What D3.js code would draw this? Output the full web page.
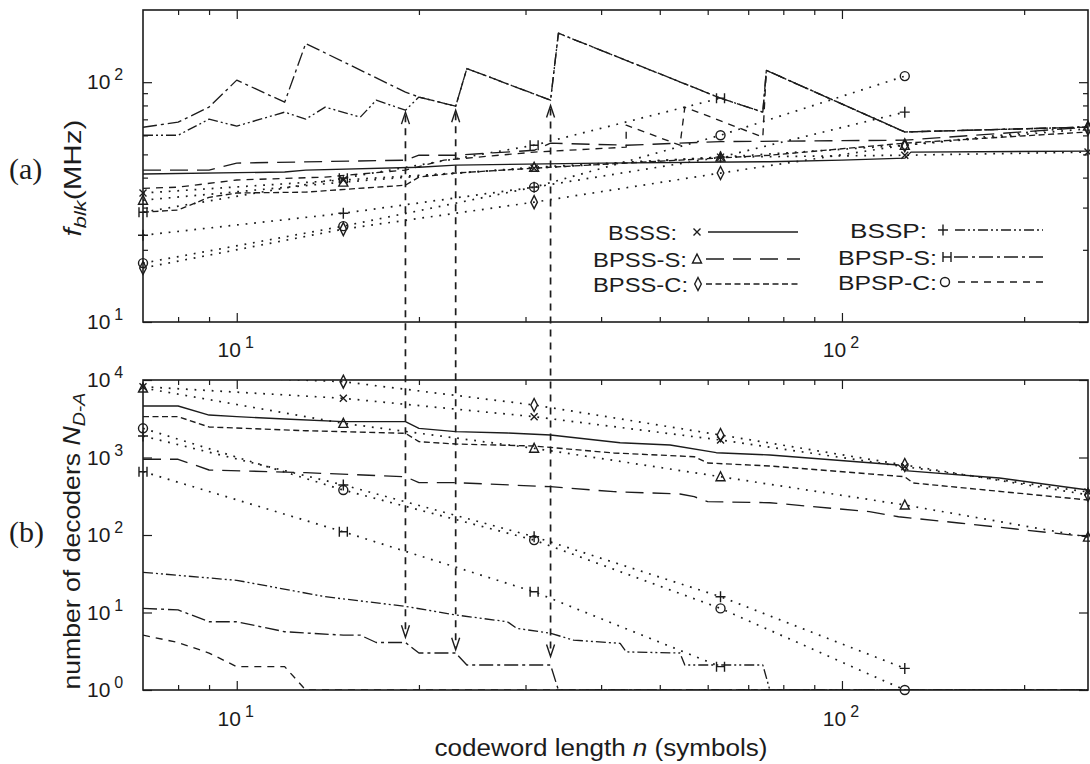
<!DOCTYPE html>
<html><head><meta charset="utf-8">
<script src="https://cdn.jsdelivr.net/npm/d3@7"></script>
<style>body{margin:0;background:#fff}svg{display:block}</style>
</head><body>
<svg id="c" width="1090" height="764"></svg>
<script>
// ---------------- DATA ----------------
const schemes = ["BSSS", "BPSS-S", "BPSS-C", "BSSP", "BPSP-S", "BPSP-C"];
const naturalN = [7, 15, 31, 63, 127, 255];

// (a) block frequency f_blk (MHz) — continuous curves [n, MHz]
const fBSSS   = [[7,41.4],[12,42.2],[13,43],[20,44.2],[23,45.1],[40,46],[76,46.6],[100,47.3],[127,48.2],[130,51.1],[255,51.6]];
const fBPSS_S = [[7,43],[9,43],[10,46],[19,47.3],[20,49.6],[23,49.6],[31,52],[33,55.7],[44,54.6],[63,56.5],[127,57.3],[255,64.9]];
const fBPSS_C = [[7,28.7],[8,29.3],[9,33.1],[10,34.5],[13,34.8],[19,37.2],[20,40.2],[23,41.8],[31,43.8],[44,46],[54,47.3],[76,49.6],[127,55.7],[255,62]];
const fBSSP   = [[7,60.1],[8,60.1],[9,70.1],[10,65.6],[12,75],[13,70.1],[14,78.7],[16,71.5],[17,84.1],[19,76.4],[20,86.7],[23,79.4],[24,114],[33,84.1],[34,160],[63,85.8],[74,75],[75,112],[127,62],[255,65]];
const fBPSP_S = [[7,64.9],[8,68.1],[9,78.7],[10,102],[12,82.5],[13,145],[19,90.9],[20,86.7],[23,79.4],[24,114],[33,84.1],[34,160],[63,85.8],[74,75],[75,112],[127,62],[255,65]];
const fBPSP_C = [[7,36.1],[8,36.5],[10,39.1],[14,40.2],[19,43],[22,47.3],[31,51.1],[44,53.6],[44,66.2],[54,54.6],[55,78.7],[74,59],[75,112],[127,62],[255,65]];

// (a) marker values at natural code lengths (dotted)
const fmBSSS   = [34.5, 39.1, 43.8, 48.7, 49.6, 51.1];
const fmBPSS_S = [32.2, 38.3, 44.2, 48.7, 54.6, 65.6];
const fmBPSS_C = [16.8, 24.4, 31.6, 41.8, 54.6, 64];
const fmBSSP   = [23, 28.4, 36.5, 48.7, 75];
const fmBPSP_S = [28.7, 39.8, 54.6, 85.8];
const fmBPSP_C = [17.6, 25.1, 36.5, 60.1, 106];

// (b) number of decoders N_D-A — continuous curves [n, count]
const nBSSS   = [[7,4620],[8,4620],[9,3530],[10,3363],[12,3140],[15,2897],[19,2897],[20,2380],[23,2153],[28,2070],[33,1950],[43,1552],[52,1449],[62,1153],[76,1077],[124,800],[127,676],[182,544],[255,381]];
const nBPSS_S = [[7,948],[8,948],[9,690],[13,637],[19,565],[20,473],[23,473],[33,420],[42,362],[54,338],[57,312],[60,269],[76,261],[111,200],[124,172],[156,143],[255,95]];
const nBPSS_C = [[7,3363],[8,3363],[9,2476],[13,2217],[19,2052],[20,1600],[23,1493],[31,1407],[42,1143],[57,1024],[60,849],[76,777],[127,565],[131,469],[255,283]];
const nBSSP   = [[7,33],[10,26],[14,16],[19,12],[23,9.3],[28,7.6],[29,6.25],[33,5.4],[36,4.4],[43,4],[44,3.1],[54,3],[55,2.1],[74,2.1],[76,1],[255,1]];
const nBPSP_S = [[7,11.3],[8,10.8],[9,7.6],[10,7.6],[12,5.65],[15,5.1],[16,5.1],[17,4.1],[19,4.1],[20,3],[23,3],[24,2.1],[33,2.1],[34,1],[255,1]];
const nBPSP_C = [[7,5.1],[8,4.1],[9,3],[10,2],[12,2],[13,1],[255,1]];

// (b) marker values at natural code lengths (dotted)
const nmBSSS   = [8200, 5800, 3363, 1682, 760, 359];
const nmBPSS_S = [7890, 2760, 1315, 565, 244, 94];
const nmBPSS_C = [12000, 9510, 4760, 1950, 800, 330];
const nmBSSP   = [1890, 442, 95, 16, 1.9];
const nmBPSP_S = [656, 110, 18.5, 2];
const nmBPSP_C = [2380, 380, 86, 11.3, 1];

// vertical arrows linking (a) and (b)
const arrowN      = [19, 23, 33];
const arrowTopF   = [75, 76.4, 80];
const arrowBotN   = [4.8, 3.3, 2.7];

// ticks
const xMajor = [10, 100];
const xMinor = [8, 9, 20, 30, 40, 50, 60, 70, 80, 90, 200];
const xTickExp = ["1", "2"];
const yTopMajor = [10, 100];
const yTopMinor = [20, 30, 40, 50, 60, 70, 80, 90];
const yTopExp = ["1", "2"];
const yBotMajor = [1, 10, 100, 1000, 10000];
const yBotExp = ["0", "1", "2", "3", "4"];

// ---------------- DRAW ----------------
const svg = d3.select("#c");
const INK = "#1c1c1c";
const FONT = "'Liberation Sans', Arial, Helvetica, sans-serif";

const L = 143, R = 1088;
const x = d3.scaleLog().domain([7, 255]).range([L, R]);
const yT = d3.scaleLog().domain([10, 200]).range([322, 10]);
const yB = d3.scaleLog().domain([1, 10000]).range([690, 380]);

const dashes = {
  "BSSS": null, "BPSS-S": "18,9", "BPSS-C": "6,3.5",
  "BSSP": "10,3,2,3,2,3", "BPSP-S": "14,4,3,4", "BPSP-C": "7,6"
};
const shapes = {"BSSS":"x","BPSS-S":"tri","BPSS-C":"dia","BSSP":"plus","BPSP-S":"H","BPSP-C":"o"};

const topCurves = [fBSSS, fBPSS_S, fBPSS_C, fBSSP, fBPSP_S, fBPSP_C];
const topMarks  = [fmBSSS, fmBPSS_S, fmBPSS_C, fmBSSP, fmBPSP_S, fmBPSP_C];
const botCurves = [nBSSS, nBPSS_S, nBPSS_C, nBSSP, nBPSP_S, nBPSP_C];
const botMarks  = [nmBSSS, nmBPSS_S, nmBPSS_C, nmBSSP, nmBPSP_S, nmBPSP_C];

const defs = svg.append("defs");
function clip(id, y0, y1) {
  defs.append("clipPath").attr("id", id).append("rect")
    .attr("x", L).attr("y", y0).attr("width", R - L).attr("height", y1 - y0);
}
clip("clipT", yT.range()[1], yT.range()[0]);
clip("clipB", yB.range()[1], yB.range()[0]);

function marker(g, type, cx, cy) {
  const s = g.append("path").attr("fill", "none").attr("stroke", INK).attr("stroke-width", 1.4);
  let d;
  switch (type) {
    case "x": d = `M${cx-3.5},${cy-3.5}L${cx+3.5},${cy+3.5}M${cx+3.5},${cy-3.5}L${cx-3.5},${cy+3.5}`; break;
    case "tri": d = `M${cx},${cy-5}L${cx+4.5},${cy+4}L${cx-4.5},${cy+4}Z`; break;
    case "dia": d = `M${cx},${cy-6.5}L${cx+3.3},${cy}L${cx},${cy+6.5}L${cx-3.3},${cy}Z`; break;
    case "plus": d = `M${cx-5},${cy}L${cx+5},${cy}M${cx},${cy-5.5}L${cx},${cy+5.5}`; break;
    case "H": d = `M${cx-4},${cy-5}V${cy+5}M${cx+4},${cy-5}V${cy+5}M${cx-4},${cy}H${cx+4}`; break;
    case "o": s.remove(); g.append("circle").attr("cx", cx).attr("cy", cy).attr("r", 4.5)
      .attr("fill", "none").attr("stroke", INK).attr("stroke-width", 1.4); return;
  }
  s.attr("d", d);
}

function panel(y, curves, marks, clipId) {
  const g = svg.append("g");
  const lines = g.append("g").attr("clip-path", `url(#${clipId})`);
  const line = d3.line().x(d => x(d[0])).y(d => y(d[1]));
  marks.forEach((vals) => {
    const pts = vals.map((v, k) => [naturalN[k], v]);
    lines.append("path").attr("d", line(pts)).attr("fill", "none")
      .attr("stroke", INK).attr("stroke-width", 1.7).attr("stroke-dasharray", "1.8,6.8");
  });
  curves.forEach((pts, i) => {
    const p = lines.append("path").attr("d", line(pts)).attr("fill", "none")
      .attr("stroke", INK).attr("stroke-width", 1.35).attr("stroke-linejoin", "round");
    const da = dashes[schemes[i]];
    if (da) p.attr("stroke-dasharray", da);
  });
  const [lo, hi] = y.domain();
  marks.forEach((vals, i) => {
    vals.forEach((v, k) => {
      if (v < lo * 0.98 || v > hi * 1.02) return;
      marker(g, shapes[schemes[i]], x(naturalN[k]), y(v));
    });
  });
}

panel(yT, topCurves, topMarks, "clipT");
panel(yB, botCurves, botMarks, "clipB");

function frame(y, majorY, minorY) {
  const [y0, y1] = [y.range()[1], y.range()[0]];
  const g = svg.append("g");
  const tick = (sel) => sel.call(s => s.select(".domain").remove())
    .selectAll("line").attr("stroke", INK).attr("stroke-width", 1.2);
  const ax = (gen, tx, ty) => g.append("g").attr("transform", `translate(${tx},${ty})`).call(gen).call(tick);
  ax(d3.axisBottom(x).tickValues(xMajor).tickSize(-9).tickFormat(""), 0, y1);
  ax(d3.axisBottom(x).tickValues(xMinor).tickSize(-5).tickFormat(""), 0, y1);
  ax(d3.axisTop(x).tickValues(xMajor).tickSize(-9).tickFormat(""), 0, y0);
  ax(d3.axisTop(x).tickValues(xMinor).tickSize(-5).tickFormat(""), 0, y0);
  ax(d3.axisLeft(y).tickValues(majorY).tickSize(-9).tickFormat(""), L, 0);
  ax(d3.axisRight(y).tickValues(majorY).tickSize(-9).tickFormat(""), R, 0);
  if (minorY.length) {
    ax(d3.axisLeft(y).tickValues(minorY).tickSize(-5).tickFormat(""), L, 0);
    ax(d3.axisRight(y).tickValues(minorY).tickSize(-5).tickFormat(""), R, 0);
  }
  g.append("rect").attr("x", L).attr("y", y0).attr("width", R - L).attr("height", y1 - y0)
    .attr("fill", "none").attr("stroke", INK).attr("stroke-width", 1.6);
  g.selectAll("text").remove();
}
frame(yT, yTopMajor, yTopMinor);
frame(yB, yBotMajor, []);

function expLabel(px, py, exp, anchor) {
  const t = svg.append("text").attr("x", px).attr("y", py).attr("font-family", FONT)
    .attr("font-size", 21).attr("fill", INK).attr("text-anchor", anchor);
  t.append("tspan").text("10");
  t.append("tspan").attr("dx", 4).attr("dy", -9).attr("font-size", 16).text(exp);
}
xMajor.forEach((v, i) => {
  expLabel(x(v) - 1, 357, xTickExp[i], "middle");
  expLabel(x(v) - 1, 726, xTickExp[i], "middle");
});
yTopMajor.forEach((v, i) => expLabel(87, yT(v) + 7, yTopExp[i], "start"));
yBotMajor.forEach((v, i) => expLabel(87, yB(v) + 7, yBotExp[i], "start"));

arrowN.forEach((n, i) => {
  const px = x(n), ty = yT(arrowTopF[i]), by = yB(arrowBotN[i]);
  svg.append("line").attr("x1", px).attr("x2", px).attr("y1", ty + 3).attr("y2", by - 3)
    .attr("stroke", INK).attr("stroke-width", 1.7).attr("stroke-dasharray", "7,6");
  svg.append("path").attr("d", `M${px-4},${ty+12}L${px},${ty}L${px+4},${ty+12}`)
    .attr("fill", "none").attr("stroke", INK).attr("stroke-width", 1.4);
  svg.append("path").attr("d", `M${px-4},${by-12}L${px},${by}L${px+4},${by-12}`)
    .attr("fill", "none").attr("stroke", INK).attr("stroke-width", 1.4);
});

function fit(sel, target) {
  const w = sel.node().getComputedTextLength();
  sel.attr("transform", (sel.attr("transform") || "") + ` scale(${target / w},1)`);
}
const xt = svg.append("text").attr("transform", "translate(601,756)").attr("text-anchor", "middle")
  .attr("font-family", FONT).attr("font-size", 23).attr("fill", INK);
xt.append("tspan").text("codeword length ");
xt.append("tspan").attr("font-style", "italic").text("n");
xt.append("tspan").text(" (symbols)");
fit(xt, 333);

const ya = svg.append("text").attr("transform", "translate(81,178) rotate(-90)").attr("text-anchor", "middle")
  .attr("font-family", FONT).attr("font-size", 23).attr("fill", INK);
ya.append("tspan").attr("font-style", "italic").text("f");
ya.append("tspan").attr("font-style", "italic").attr("font-size", 17).attr("dy", 5).text("blk");
ya.append("tspan").attr("dy", -5).text("(MHz)");
fit(ya, 117);

const yb = svg.append("text").attr("transform", "translate(80,541) rotate(-90)").attr("text-anchor", "middle")
  .attr("font-family", FONT).attr("font-size", 23).attr("fill", INK);
yb.append("tspan").text("number of decoders ");
yb.append("tspan").attr("font-style", "italic").text("N");
yb.append("tspan").attr("font-style", "italic").attr("font-size", 17).attr("dy", 5).text("D-A");
fit(yb, 297);

svg.append("text").attr("x", 9).attr("y", 179).attr("font-family", "'Liberation Serif', 'Times New Roman', serif")
  .attr("font-size", 30).attr("fill", INK).text("(a)");
svg.append("text").attr("x", 9).attr("y", 542).attr("font-family", "'Liberation Serif', 'Times New Roman', serif")
  .attr("font-size", 30).attr("fill", INK).text("(b)");

// legend
const legendPos = [
  {tx: 677, my: 232, mx: 697, l0: 708, l1: 798, w: 69},
  {tx: 687, my: 259, mx: 697, l0: 706, l1: 800, w: 94},
  {tx: 688, my: 284, mx: 698, l0: 706, l1: 798, w: 95},
  {tx: 927, my: 230, mx: 943, l0: 955, l1: 1043, w: 77},
  {tx: 937, my: 257, mx: 947, l0: 954, l1: 1043, w: 99},
  {tx: 937, my: 282, mx: 945, l0: 958, l1: 1043, w: 99}
];
const lg = svg.append("g");
schemes.forEach((s, i) => {
  const p = legendPos[i];
  const t = lg.append("text").attr("transform", `translate(${p.tx},${p.my + 8})`).attr("text-anchor", "end")
    .attr("font-family", FONT).attr("font-size", 21).attr("fill", INK).text(s + ":");
  fit(t, p.w);
  marker(lg, shapes[s], p.mx, p.my);
  const ln = lg.append("line").attr("x1", p.l0).attr("x2", p.l1).attr("y1", p.my).attr("y2", p.my)
    .attr("stroke", INK).attr("stroke-width", 1.35);
  if (dashes[s]) ln.attr("stroke-dasharray", dashes[s]);
});
</script>
</body></html>
